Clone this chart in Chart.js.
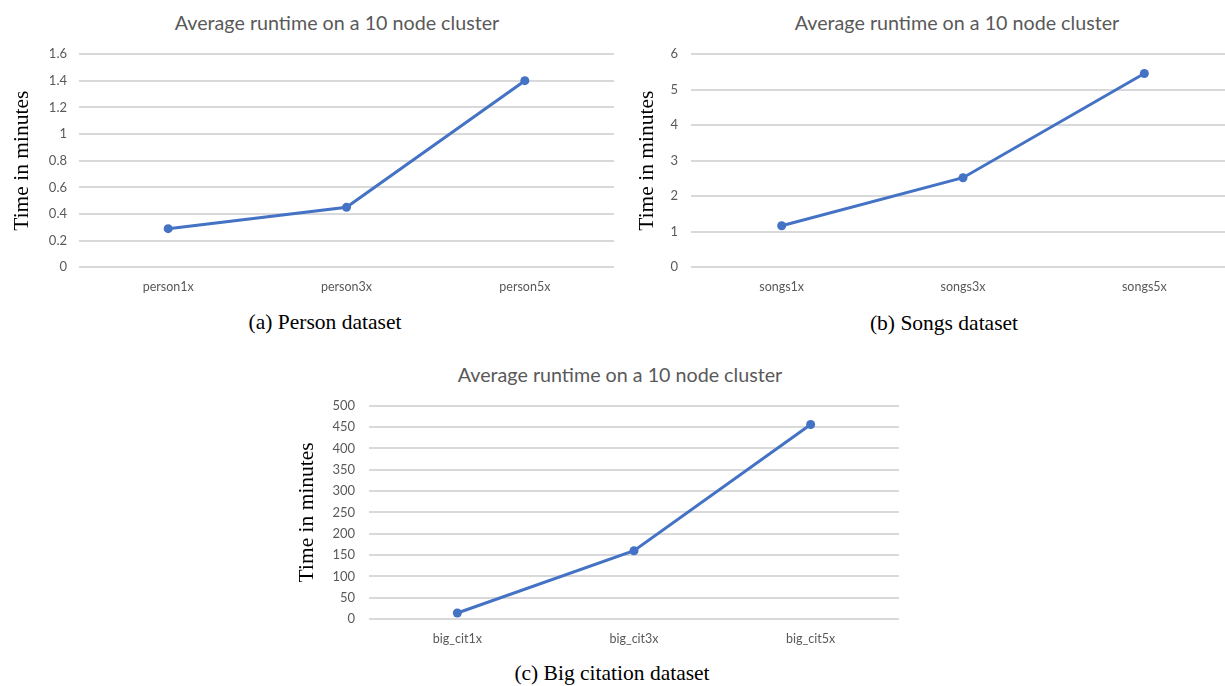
<!DOCTYPE html>
<html>
<head>
<meta charset="utf-8">
<script src="https://cdn.jsdelivr.net/npm/chart.js@4.4.1/dist/chart.umd.min.js"></script>
<style>
  body { margin: 0; width: 1225px; height: 686px; overflow: hidden; background: #fff; position: relative; }
  canvas { position: absolute; }
  .title { position: absolute; width: 420px; text-align: center; font-family: Lato, "Open Sans", sans-serif; font-size: 19.7px; color: #595959; line-height: 24px; white-space: nowrap; }
  .caption { position: absolute; width: 300px; text-align: center; font-family: "Liberation Serif", "DejaVu Serif", serif; font-size: 21.5px; color: #000; line-height: 24px; white-space: nowrap; }
</style>
</head>
<body>
<div class="title" style="left:127px; top:11px;">Average runtime on a 10 node cluster</div>
<div class="title" style="left:747px; top:11px;">Average runtime on a 10 node cluster</div>
<div class="title" style="left:410px; top:363px;">Average runtime on a 10 node cluster</div>

<canvas id="chartA" width="620" height="300" style="left:0px; top:0px;"></canvas>
<canvas id="chartB" width="620" height="300" style="left:620px; top:0px;"></canvas>
<canvas id="chartC" width="620" height="300" style="left:290px; top:350px;"></canvas>

<div class="caption" style="left:175px; top:310px;">(a) Person dataset</div>
<div class="caption" style="left:794px; top:311px;">(b) Songs dataset</div>
<div class="caption" style="left:462px; top:661px;">(c) Big citation dataset</div>

<script>
// dados
const personLabels = ['person1x', 'person3x', 'person5x'];
const personTimes = [0.29, 0.45, 1.4];
const personMax = 1.6;
const personStep = 0.2;

const songsLabels = ['songs1x', 'songs3x', 'songs5x'];
const songsTimes = [1.17, 2.52, 5.45];
const songsMax = 6;
const songsStep = 1;

const citLabels = ['big_cit1x', 'big_cit3x', 'big_cit5x'];
const citTimes = [14, 160, 456];
const citMax = 500;
const citStep = 50;

const lineColor = '#4472C4';
const gridColor = '#d9d9d9';
const tickColor = '#595959';

// cria um gráfico de linha no estilo do Excel
function makeChart(id, labels, values, yMax, yStep, box) {
    const canvas = document.getElementById(id);
    const H = canvas.height;
    return new Chart(canvas.getContext('2d'), {
        type: 'line',
        data: {
            labels: labels,
            datasets: [{
                data: values,
                borderColor: lineColor,
                backgroundColor: lineColor,
                borderWidth: 3,
                pointRadius: 4.5,
                pointBorderWidth: 0,
                pointBackgroundColor: lineColor,
                fill: false,
                tension: 0
            }]
        },
        options: {
            responsive: false,
            animation: false,
            layout: {
                padding: { top: box.top, right: box.right, left: 0, bottom: 0 }
            },
            scales: {
                x: {
                    offset: true,
                    grid: { display: false, drawTicks: false },
                    border: { display: false },
                    ticks: {
                        color: tickColor,
                        font: { family: 'Lato, "Open Sans", sans-serif', size: 12.5 },
                        padding: 12,
                        maxRotation: 0
                    },
                    afterFit: (scale) => { scale.height = H - box.bottom; }
                },
                y: {
                    min: 0,
                    max: yMax,
                    grid: { color: gridColor, lineWidth: 2, drawTicks: false },
                    border: { display: false },
                    ticks: {
                        stepSize: yStep,
                        color: tickColor,
                        font: { family: 'Lato, "Open Sans", sans-serif', size: 13 },
                        padding: box.tickPad,
                        callback: (value) => String(Number(value.toFixed(2)))
                    },
                    title: {
                        display: true,
                        text: 'Time in minutes',
                        color: '#000',
                        font: { family: '"Liberation Serif", "DejaVu Serif", serif', size: 21.5, lineHeight: 1.2 },
                        padding: { top: box.titleX - 13, bottom: 0 }
                    },
                    afterFit: (scale) => { scale.width = box.left; }
                }
            },
            plugins: {
                legend: { display: false },
                tooltip: { enabled: false },
                title: { display: false }
            }
        }
    });
}

makeChart('chartA', personLabels, personTimes, personMax, personStep,
    { left: 79, right: 6, top: 54, bottom: 267.3, tickPad: 12, titleX: 22 });
makeChart('chartB', songsLabels, songsTimes, songsMax, songsStep,
    { left: 71, right: 5, top: 54, bottom: 267.3, tickPad: 13, titleX: 27 });
makeChart('chartC', citLabels, citTimes, citMax, citStep,
    { left: 79, right: 11, top: 55.7, bottom: 269, tickPad: 14, titleX: 17 });
</script>
</body>
</html>
